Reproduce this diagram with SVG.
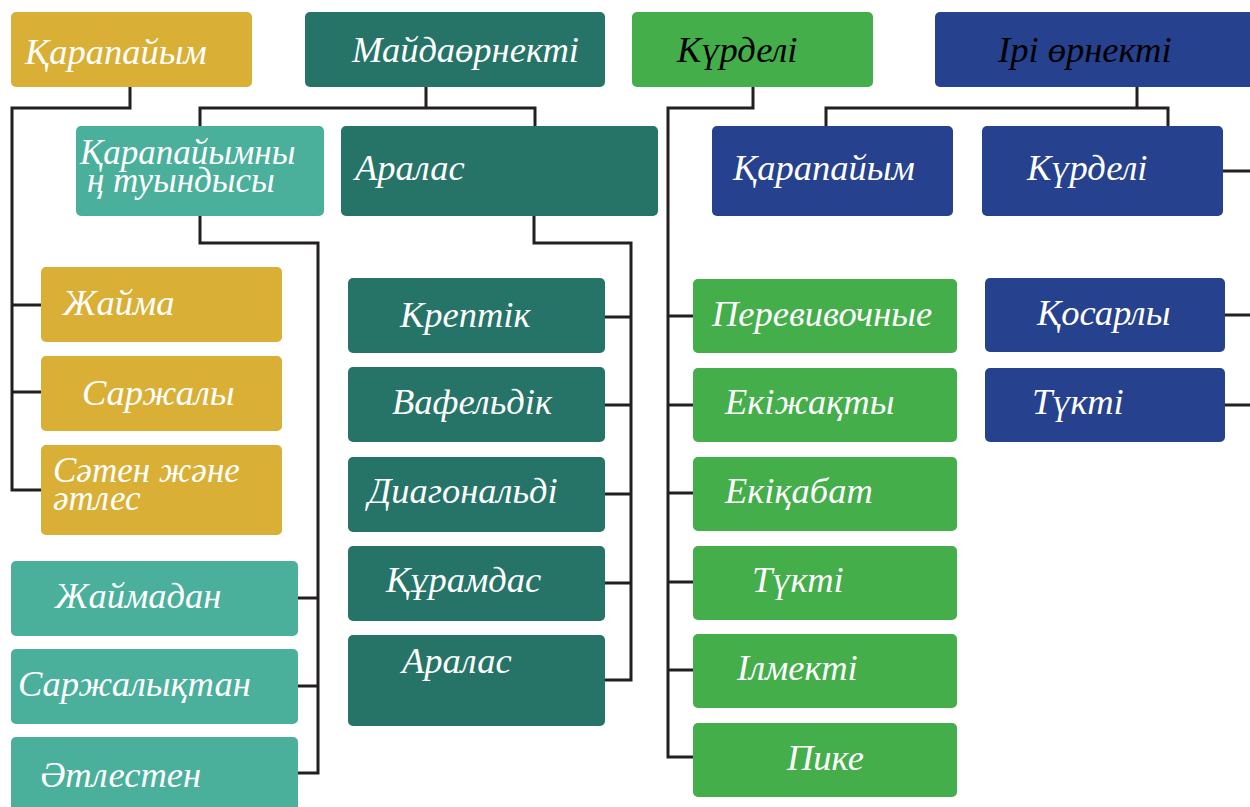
<svg xmlns="http://www.w3.org/2000/svg" width="1250" height="807" viewBox="0 0 1250 807">
  <style>
    .box { rx: 5px; ry: 5px; }
    .gold { fill: #DAAF36; }
    .dteal { fill: #267467; }
    .lteal { fill: #4AB09C; }
    .green { fill: #43AE4A; }
    .blue { fill: #26418E; }
    text { font-family: "Liberation Serif", "DejaVu Serif", serif; font-style: italic; font-size: 36.5px; fill: #ffffff; }
    text.dark { fill: #000000; }
    text.two { font-size: 35px; }
    .conn { fill: none; stroke: #231F20; stroke-width: 3; stroke-linejoin: miter; }
  </style>
  <rect width="1250" height="807" fill="#ffffff"/>

  <!-- connectors -->
  <g id="connectors" class="conn">
    <!-- Қарапайым branch -->
    <path d="M130 87 V108 H12 V490 H41 M12 305 H41 M12 392 H41"/>
    <!-- Майдаөрнекті branch -->
    <path d="M426 87 V108 M200 126 V108 H535 V126"/>
    <!-- derived group -->
    <path d="M200 216 V243 H318 V773 H298 M298 598 H318 M298 686 H318"/>
    <!-- mixed group -->
    <path d="M534 216 V243 H631 V680 H605 M605 317 H631 M605 405 H631 M605 494 H631 M605 583 H631"/>
    <!-- Күрделі branch -->
    <path d="M753 87 V108 H668 V757 H693 M668 316 H693 M668 405 H693 M668 493 H693 M668 582 H693 M668 670 H693"/>
    <!-- Ірі өрнекті branch -->
    <path d="M1137 87 V108 M826 126 V108 H1168 V126"/>
    <!-- outgoing to the right -->
    <path d="M1223 171 H1250 M1225 315 H1250 M1225 405 H1250"/>
  </g>

  <!-- top row -->
  <g id="n-qarapaiym">
    <rect class="box gold" x="11" y="12" width="241" height="75"/>
    <text x="25" y="64">Қарапайым</text>
  </g>
  <g id="n-maidaornekti">
    <rect class="box dteal" x="305" y="12" width="300" height="75"/>
    <text x="352" y="62">Майдаөрнекті</text>
  </g>
  <g id="n-kurdeli">
    <rect class="box green" x="632" y="12" width="241" height="75"/>
    <text class="dark" x="677" y="62">Күрделі</text>
  </g>
  <g id="n-iri-ornekti">
    <rect class="box blue" x="935" y="12" width="325" height="75"/>
    <text class="dark" x="998" y="62">Ірі өрнекті</text>
  </g>

  <!-- second row -->
  <g id="n-tuyndysy">
    <rect class="box lteal" x="76" y="126" width="248" height="90"/>
    <text class="two" x="80" y="164">Қарапайымны</text>
    <text class="two" x="87" y="192">ң туындысы</text>
  </g>
  <g id="n-aralas-main">
    <rect class="box dteal" x="341" y="126" width="317" height="90"/>
    <text x="355" y="180">Аралас</text>
  </g>
  <g id="n-qarapaiym-iri">
    <rect class="box blue" x="712" y="126" width="241" height="90"/>
    <text x="733" y="180">Қарапайым</text>
  </g>
  <g id="n-kurdeli-iri">
    <rect class="box blue" x="982" y="126" width="241" height="90"/>
    <text x="1027" y="180">Күрделі</text>
  </g>

  <!-- simple weaves -->
  <g id="n-zhaima">
    <rect class="box gold" x="41" y="267" width="241" height="75"/>
    <text x="63" y="315">Жайма</text>
  </g>
  <g id="n-sarzhaly">
    <rect class="box gold" x="41" y="356" width="241" height="75"/>
    <text x="82" y="405">Саржалы</text>
  </g>
  <g id="n-saten">
    <rect class="box gold" x="41" y="445" width="241" height="90"/>
    <text class="two" x="53" y="482">Сәтен және</text>
    <text class="two" x="53" y="510">әтлес</text>
  </g>

  <!-- derived weaves -->
  <g id="n-zhaimadan">
    <rect class="box lteal" x="11" y="561" width="287" height="75"/>
    <text x="55" y="608">Жаймадан</text>
  </g>
  <g id="n-sarzhalyqtan">
    <rect class="box lteal" x="11" y="649" width="287" height="75"/>
    <text x="18" y="696">Саржалықтан</text>
  </g>
  <g id="n-atlesten">
    <rect class="box lteal" x="11" y="737" width="287" height="80"/>
    <text x="40" y="787">Әтлестен</text>
  </g>

  <!-- mixed small-pattern weaves -->
  <g id="n-kreptik">
    <rect class="box dteal" x="348" y="278" width="257" height="75"/>
    <text x="400" y="327">Крептік</text>
  </g>
  <g id="n-vafeldik">
    <rect class="box dteal" x="348" y="367" width="257" height="75"/>
    <text x="392" y="414">Вафельдік</text>
  </g>
  <g id="n-diagonaldi">
    <rect class="box dteal" x="348" y="457" width="257" height="75"/>
    <text x="368" y="503">Диагональді</text>
  </g>
  <g id="n-quramdas">
    <rect class="box dteal" x="348" y="546" width="257" height="75"/>
    <text x="386" y="592">Құрамдас</text>
  </g>
  <g id="n-aralas">
    <rect class="box dteal" x="348" y="635" width="257" height="91"/>
    <text x="402" y="673">Аралас</text>
  </g>

  <!-- complex weaves -->
  <g id="n-perevivochnye">
    <rect class="box green" x="693" y="279" width="264" height="74"/>
    <text x="712" y="326">Перевивочные</text>
  </g>
  <g id="n-ekizhaqty">
    <rect class="box green" x="693" y="368" width="264" height="74"/>
    <text x="725" y="414">Екіжақты</text>
  </g>
  <g id="n-ekiqabat">
    <rect class="box green" x="693" y="457" width="264" height="74"/>
    <text x="725" y="503">Екіқабат</text>
  </g>
  <g id="n-tukti">
    <rect class="box green" x="693" y="546" width="264" height="74"/>
    <text x="752" y="592">Түкті</text>
  </g>
  <g id="n-ilmekti">
    <rect class="box green" x="693" y="634" width="264" height="74"/>
    <text x="737" y="680">Ілмекті</text>
  </g>
  <g id="n-pike">
    <rect class="box green" x="693" y="723" width="264" height="74"/>
    <text x="787" y="770">Пике</text>
  </g>

  <!-- large-pattern complex weaves -->
  <g id="n-qosarly">
    <rect class="box blue" x="985" y="278" width="240" height="74"/>
    <text x="1037" y="325">Қосарлы</text>
  </g>
  <g id="n-tukti-iri">
    <rect class="box blue" x="985" y="368" width="240" height="74"/>
    <text x="1032" y="414">Түкті</text>
  </g>
</svg>
